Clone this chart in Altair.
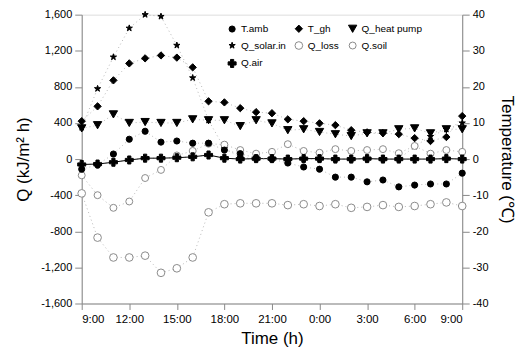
import altair as alt
import pandas as pd

hours = list(range(25))
tick_hours = [0, 3, 6, 9, 12, 15, 18, 21, 24]
q_ticks = [-1600, -1200, -800, -400, 0, 400, 800, 1200, 1600]
t_ticks = [-40, -30, -20, -10, 0, 10, 20, 30, 40]

t_amb = [-2.8, -1.6, 1.4, 5.5, 7.7, 4.7, 5.0, 4.4, 4.4, 2.5, 1.5, 0.3, 0.0, -1.1, -2.2,
         -2.8, -5.0, -5.0, -6.3, -5.8, -7.7, -7.2, -6.9, -6.9, -3.9]
t_gh = [10.5, 14.6, 21.8, 26.5, 27.9, 28.7, 28.1, 25.4, 16.0, 15.7, 14.1, 13.0, 12.7, 11.0,
        10.5, 9.9, 9.4, 8.0, 7.4, 7.2, 6.9, 5.8, 5.0, 6.1, 11.9]
q_heat_pump = [340, 375, 495, 400, 410, 400, 400, 440, 430, 430, 365, 430, 395, 320, 330,
               300, 275, 255, 285, 285, 330, 340, 285, 330, 330]
q_solar_in = [350, 780, 1130, 1450, 1600, 1580, 1260, 900, 430, 120, 20, 0, 0, 0, 0,
              0, 0, 0, 0, 0, 0, 140, 250, 330, 400]
q_loss = [-380, -870, -1090, -1090, -1070, -1260, -1210, -1090, -590, -500, -490, -490, -490,
          -510, -500, -520, -500, -540, -530, -510, -530, -520, -500, -480, -520]
q_soil = [-180, -400, -540, -470, -210, -120, 40, 90, 170, 160, 100, 60, 80, 165, 90,
          70, 110, 90, 100, 110, 65, 145, 60, 100, 80]
q_air = [-60, -55, -35, -10, 10, 10, 15, 25, 45, 10, 0, 5, 5, 0, 5, 5, 0, 0, 5, 0, 0, 0, 0, 5, 0]

series_names = ["T.amb", "T_gh", "Q_heat pump", "Q_solar.in", "Q_loss", "Q.soil", "Q.air"]
series_values = [t_amb, t_gh, q_heat_pump, q_solar_in, q_loss, q_soil, q_air]

# order of legend domain (arranged so the legend grid reads row by row like the reference)
legend_domain = ["T.amb", "Q_solar.in", "Q.soil", "T_gh", "Q_loss", "Q.air", "Q_heat pump"]

rows = []
for name, vals in zip(series_names, series_values):
    for h, v in zip(hours, vals):
        rows.append({"hour": h, "series": name, "value": v})
df = pd.DataFrame(rows)
temp_df = df[df["series"].isin(["T.amb", "T_gh"])]
q_df = df[~df["series"].isin(["T.amb", "T_gh"])]
qair_df = df[df["series"] == "Q.air"]

star = ("M0,-1L0.2245,-0.309L0.951,-0.309L0.363,0.118L0.588,0.809L0,0.382"
        "L-0.588,0.809L-0.363,0.118L-0.951,-0.309L-0.2245,-0.309Z")
style = {
    "T.amb": ("circle", "black", "black", 38),
    "T_gh": ("diamond", "black", "black", 55),
    "Q_heat pump": ("triangle-down", "black", "black", 55),
    "Q_solar.in": (star, "black", "black", 70),
    "Q_loss": ("circle", "white", "#8a8a8a", 42),
    "Q.soil": ("circle", "white", "#8a8a8a", 36),
    "Q.air": ("cross", "black", "black", 20),
}
shapes = [style[s][0] for s in legend_domain]
fills = [style[s][1] for s in legend_domain]
strokes = [style[s][2] for s in legend_domain]
sizes = [style[s][3] for s in legend_domain]

FONT = "Liberation Sans"

legend = alt.Legend(
    title=None, orient="none", legendX=146, legendY=9, columns=3,
    columnPadding=6, rowPadding=5, labelFontSize=10, labelFont=FONT,
    labelColor="black", symbolStrokeWidth=1, labelOffset=4, padding=0,
)

x_enc = alt.X(
    "hour:Q",
    scale=alt.Scale(domain=[0, 24], nice=False, zero=False),
    axis=alt.Axis(
        values=tick_hours,
        labelExpr="((9 + datum.value) % 24) + ':00'",
        title="Time  (h)", titleFontSize=17, titleFont=FONT, titleFontWeight=400,
        titlePadding=6, labelFontSize=11.5, labelPadding=4, tickSize=6, grid=False,
    ),
)

shape_enc = alt.Shape("series:N", scale=alt.Scale(domain=legend_domain, range=shapes), legend=legend)
fill_enc = alt.Fill("series:N", scale=alt.Scale(domain=legend_domain, range=fills), legend=legend)
stroke_enc = alt.Stroke("series:N", scale=alt.Scale(domain=legend_domain, range=strokes), legend=legend)
size_enc = alt.Size("series:N", scale=alt.Scale(domain=legend_domain, range=sizes), legend=legend)

y_q = alt.Y(
    "value:Q",
    scale=alt.Scale(domain=[-1600, 1600], nice=False),
    axis=alt.Axis(
        orient="left", values=q_ticks,
        labelExpr="replace(format(datum.value, ','), '\u2212', '-')",
        title="Q  (kJ/m\u00b2 h)", titleFontSize=17, titleFont=FONT, titleFontWeight=400,
        titlePadding=8, labelFontSize=11, labelPadding=3, tickSize=7, grid=False,
    ),
)
y_t = alt.Y(
    "value:Q",
    scale=alt.Scale(domain=[-40, 40], nice=False),
    axis=alt.Axis(
        orient="right", values=t_ticks,
        labelExpr="replace(format(datum.value, 'd'), '\u2212', '-')",
        title="Temperature  (\u2103)", titleFontSize=17, titleFont=FONT, titleFontWeight=400,
        titlePadding=10, labelFontSize=11, labelPadding=3, tickSize=7, grid=False,
    ),
)

line_style = dict(strokeDash=[1, 3], color="#9a9a9a", strokeWidth=0.7)
q_lines = alt.Chart(q_df).mark_line(**line_style).encode(x=x_enc, y=y_q, detail="series:N")
qair_line = alt.Chart(qair_df).mark_line(color="black", strokeWidth=1).encode(x=x_enc, y=y_q)
q_points = alt.Chart(q_df).mark_point(filled=False, opacity=1, strokeWidth=1).encode(
    x=x_enc, y=y_q, shape=shape_enc, fill=fill_enc, stroke=stroke_enc, size=size_enc
)

t_lines = alt.Chart(temp_df).mark_line(**line_style).encode(x=x_enc, y=y_t, detail="series:N")
t_points = alt.Chart(temp_df).mark_point(filled=False, opacity=1, strokeWidth=1).encode(
    x=x_enc, y=y_t, shape=shape_enc, fill=fill_enc, stroke=stroke_enc, size=size_enc
)

q_layer = alt.layer(q_lines, qair_line, q_points)
t_layer = alt.layer(t_lines, t_points)

chart = alt.layer(q_layer, t_layer).resolve_scale(y="independent").properties(
    width=382, height=290,
    padding={"left": 6, "top": 0, "right": 0, "bottom": 0},
).configure_view(stroke="black", strokeWidth=1).configure_axis(
    domainColor="black", tickColor="black", labelColor="black", titleColor="black",
    labelFont=FONT, titleFont=FONT, titleFontWeight=400, domainWidth=1,
).configure(background="white")

chart.save("out.html", embed_options={"renderer": "svg", "actions": False})
